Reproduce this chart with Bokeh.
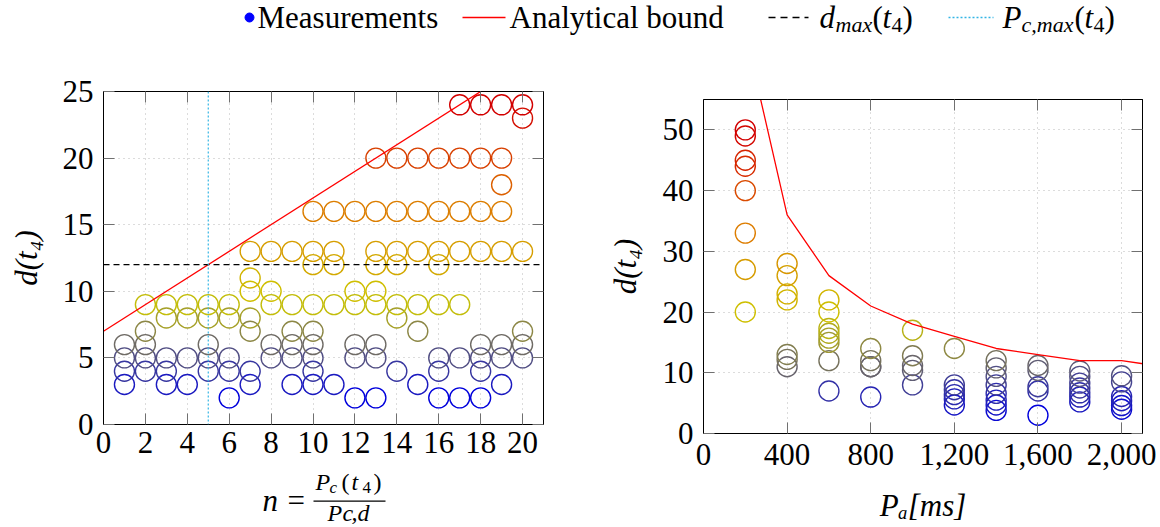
from bokeh.plotting import figure
from bokeh.models import (ColumnDataSource, Range1d, LinearAxis, FixedTicker, Span,
                          LinearColorMapper, CustomJSTickFormatter, NumeralTickFormatter)
from bokeh.layouts import row, column
from bokeh.embed import file_html
from bokeh.resources import INLINE

FONT = "Liberation Serif"
MAIN = "31px"
SUB = "22px"

# ---------------- data: left panel (n vs d(t4)) ----------------
left_columns = {
    1: [3, 4, 5, 6],
    2: [4, 5, 6, 7, 9],
    3: [3, 4, 5, 8, 9],
    4: [3, 5, 8, 9],
    5: [4, 5, 6, 8, 9],
    6: [2, 4, 5, 8, 9],
    7: [3, 4, 7, 8, 10, 11, 13],
    8: [5, 6, 9, 10, 13],
    9: [3, 5, 6, 7, 9, 13],
    10: [3, 4, 5, 6, 7, 9, 12, 13, 16],
    11: [3, 9, 12, 13, 16],
    12: [2, 5, 6, 9, 10, 16],
    13: [2, 5, 6, 9, 10, 12, 13, 16, 20],
    14: [4, 8, 9, 12, 13, 16, 20],
    15: [3, 7, 9, 13, 16, 20],
    16: [2, 4, 5, 9, 12, 13, 16, 20],
    17: [2, 5, 9, 13, 16, 20, 24],
    18: [2, 4, 5, 6, 13, 16, 20, 24],
    19: [3, 5, 6, 13, 16, 18, 20, 24],
    20: [5, 6, 7, 13, 23, 24],
}
left_bound_n = [0, 21]
left_bound_d = [7, 28]
dmax_t4 = 12
pcmax_t4 = 5
left_xticks = [0, 2, 4, 6, 8, 10, 12, 14, 16, 18, 20]
left_yticks = [0, 5, 10, 15, 20, 25]

# ---------------- data: right panel (Pa vs d(t4)) ----------------
right_columns = {
    200: [20, 27, 33, 40, 44, 45, 49, 50],
    400: [11, 12.2, 13, 22, 23, 26, 28],
    600: [7, 12, 15, 15.7, 16.5, 17.3, 20, 22],
    800: [6, 11, 11, 12, 14],
    1000: [8, 10.4, 11.2, 12.8, 17],
    1200: [4.7, 5.7, 6.4, 7.2, 8, 14],
    1400: [3.8, 4.7, 5.5, 6.6, 8, 9.4, 10.8, 12],
    1600: [3, 7, 7.7, 10.4, 11.2],
    1800: [5.2, 6, 6.7, 7.5, 8.3, 9.4, 10.3],
    2000: [4, 4.6, 5.4, 6.1, 8.5, 9.5],
}
right_bound_pa = [200, 400, 600, 800, 1000, 1200, 1400, 1600, 1800, 2000, 2200]
right_bound_d = [66, 36, 26, 21, 18, 16, 14, 13, 12, 12, 11]
right_xticks = [0, 400, 800, 1200, 1600, 2000]
right_yticks = [0, 10, 20, 30, 40, 50]


def flatten(cols):
    xs, ys = [], []
    for k, vals in cols.items():
        for v in vals:
            xs.append(k)
            ys.append(v)
    return xs, ys


# colormap blue -> yellow -> orange -> red
anchors = [(0, 0, 220), (205, 198, 0), (222, 118, 0), (210, 0, 0)]
palette = []
for i in range(256):
    t = i / 255 * 3
    k = min(int(t), 2)
    f = t - k
    c = [round(anchors[k][j] * (1 - f) + anchors[k + 1][j] * f) for j in range(3)]
    palette.append("#%02x%02x%02x" % tuple(c))


def style(p, xticks, yticks, xfmt=None, xstand=8):
    for ax in p.xaxis + p.yaxis:
        ax.major_label_text_font = FONT
        ax.major_label_text_font_size = MAIN
        ax.major_label_text_color = "black"
        ax.axis_line_color = "black"
        ax.major_tick_line_color = "#707070"
        ax.major_tick_in = 11
        ax.major_tick_out = 0
        ax.minor_tick_line_color = None
        ax.axis_label_text_font = FONT
        ax.axis_label_text_font_size = MAIN
        ax.axis_label_text_font_style = "italic"
        ax.axis_label_text_color = "black"
    p.xaxis.ticker = FixedTicker(ticks=xticks)
    p.yaxis.ticker = FixedTicker(ticks=yticks)
    p.xaxis.major_label_standoff = xstand
    p.yaxis.major_label_standoff = 10
    if xfmt is not None:
        p.xaxis.formatter = xfmt
    for dim, ticks in (("above", xticks), ("right", yticks)):
        ax = LinearAxis(ticker=FixedTicker(ticks=ticks),
                        formatter=CustomJSTickFormatter(code="return ''"))
        ax.major_label_text_font_size = "0px"
        ax.axis_line_color = "black"
        ax.major_tick_line_color = "#707070"
        ax.major_tick_in = 11
        ax.major_tick_out = 0
        ax.minor_tick_line_color = None
        ax.major_label_standoff = 0
        p.add_layout(ax, dim)
    p.xgrid.ticker = FixedTicker(ticks=xticks)
    p.ygrid.ticker = FixedTicker(ticks=yticks)
    p.grid.grid_line_color = "#b8b8b8"
    p.grid.grid_line_dash = "1 4"
    p.grid.grid_line_width = 1
    p.outline_line_color = "black"
    p.outline_line_width = 1
    p.background_fill_color = "white"
    p.border_fill_color = "white"


# ---------------- left figure ----------------
ln, ld = flatten(left_columns)
src_l = ColumnDataSource(dict(n=ln, d=ld))
map_l = LinearColorMapper(palette=palette, low=min(ld), high=max(ld))

p1 = figure(width=580, height=420, x_range=Range1d(0, 21), y_range=Range1d(0, 25),
            output_backend="svg", toolbar_location=None,
            min_border_left=103, min_border_right=37, min_border_top=41, min_border_bottom=46)
style(p1, left_xticks, left_yticks, xstand=7)
p1.left[0].axis_label = "d(t\u2084)"
p1.left[0].axis_label_standoff = 16
p1.add_layout(Span(location=dmax_t4, dimension="width", line_color="black",
                   line_dash="6 4", line_width=1.2))
p1.add_layout(Span(location=pcmax_t4, dimension="height", line_color="#33b5e5",
                   line_dash="2 2", line_width=1.2))
p1.scatter("n", "d", source=src_l, marker="circle", size=20, fill_color=None,
           line_color={"field": "d", "transform": map_l}, line_width=1.4)
p1.line(left_bound_n, left_bound_d, line_color="red", line_width=1.3)

# ---------------- label under left figure (frame aligned to 103..543) ----------------
pl = figure(width=580, height=57, x_range=Range1d(103, 543), y_range=Range1d(57, 0),
            output_backend="svg", toolbar_location=None,
            min_border_left=103, min_border_right=37, min_border_top=0, min_border_bottom=0,
            x_axis_location=None, y_axis_location=None)
pl.grid.visible = False
pl.outline_line_color = None
Y0 = 470  # page y of this strip's top
lab = dict(
    x=[262, 287, 315, 329, 341, 351, 362, 373, 327, 342, 351, 357],
    y=[500, 500, 481, 487, 481, 481, 487, 481, 512, 512, 512, 512],
    t=["n", "=", "P", "c", "(", "t", "4", ")", "P", "c", ",", "d"],
    s=[MAIN, MAIN, "24px", "17px", "24px", "24px", "17px", "24px", "24px", "24px", "24px", "24px"],
    st=["italic", "normal", "italic", "italic", "normal", "italic", "normal", "normal",
        "italic", "italic", "italic", "italic"],
)
lab["y"] = [v - Y0 for v in lab["y"]]
pl.text(x="x", y="y", text="t", text_font_size="s", text_font_style="st",
        source=ColumnDataSource(lab), text_font={"value": FONT}, text_color="black",
        text_baseline="middle", text_align="left")
pl.line([313, 385], [500.7 - Y0, 500.7 - Y0], line_color="black", line_width=1.3)

# ---------------- right figure ----------------
rp, rd = flatten(right_columns)
src_r = ColumnDataSource(dict(pa=rp, d=rd))
map_r = LinearColorMapper(palette=palette, low=min(rd), high=max(rd))

p2 = figure(width=580, height=477, x_range=Range1d(0, 2100), y_range=Range1d(0, 55),
            output_backend="svg", toolbar_location=None,
            min_border_left=123, min_border_right=18, min_border_top=49, min_border_bottom=94)
style(p2, right_xticks, right_yticks, NumeralTickFormatter(format="0,0"), xstand=10)
p2.left[0].axis_label = "d(t\u2084)"
p2.left[0].axis_label_standoff = 17
p2.below[0].axis_label = "P\u2090[ms]"
p2.below[0].axis_label_standoff = 20
p2.scatter("pa", "d", source=src_r, marker="circle", size=20, fill_color=None,
           line_color={"field": "d", "transform": map_r}, line_width=1.4)
p2.line(right_bound_pa, right_bound_d, line_color="red", line_width=1.3)

# ---------------- legend strip ----------------
pg = figure(width=1160, height=50, x_range=Range1d(0, 1160), y_range=Range1d(50, 0),
            output_backend="svg", toolbar_location=None, min_border=0,
            x_axis_location=None, y_axis_location=None)
pg.grid.visible = False
pg.outline_line_color = None
pg.scatter([249], [17], marker="circle", size=9, fill_color="blue", line_color="blue")
pg.line([462, 505], [17, 17], line_color="red", line_width=1.6)
pg.line([768, 808], [17, 17], line_color="black", line_width=1.6, line_dash="7 5")
pg.line([948, 993], [17, 17], line_color="#33b5e5", line_width=1.6, line_dash="2 2")
leg = dict(
    x=[257, 509, 819, 835, 872, 882, 891, 902, 1002, 1021, 1074, 1084, 1093, 1104],
    y=[16.5, 16.5, 16.5, 24, 16.5, 16.5, 24, 16.5, 16.5, 24, 16.5, 16.5, 24, 16.5],
    t=["Measurements", "Analytical bound", "d", "max", "(", "t", "4", ")",
       "P", "c,max", "(", "t", "4", ")"],
    s=[MAIN, MAIN, MAIN, SUB, MAIN, MAIN, SUB, MAIN, MAIN, SUB, MAIN, MAIN, SUB, MAIN],
    st=["normal", "normal", "italic", "italic", "normal", "italic", "normal", "normal",
        "italic", "italic", "normal", "italic", "normal", "normal"],
)
pg.text(x="x", y="y", text="t", text_font_size="s", text_font_style="st",
        source=ColumnDataSource(leg), text_font={"value": FONT}, text_color="black",
        text_baseline="middle", text_align="left")

layout = column(pg, row(column(p1, pl), p2))
open("out.html", "w").write(file_html(layout, INLINE))
